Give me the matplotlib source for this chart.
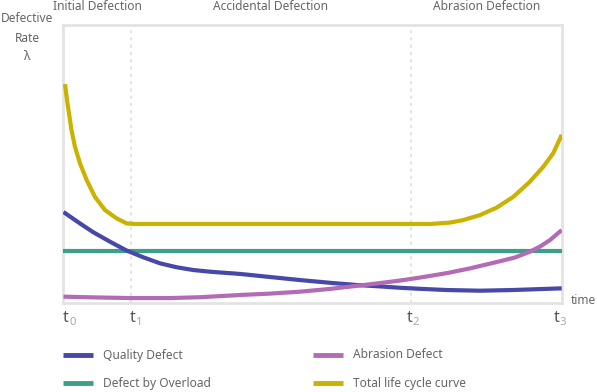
"""
Bathtub curve: defective rate over the product life cycle.
"""
import matplotlib

matplotlib.use("Agg")
import matplotlib.pyplot as plt
from matplotlib.lines import Line2D

plt.rcParams["font.family"] = ["Noto Sans", "DejaVu Sans"]

# ---------------------------------------------------------------------------
# Data (time 0..100 from t0 to t3, rate 0..100 of the axis height)
# ---------------------------------------------------------------------------

tick_pos = [0.0, 13.5, 69.7, 100.0]
tick_sub = ["0", "1", "2", "3"]
phase_names = ["Initial Defection", "Accidental Defection", "Abrasion Defection"]

total_x = [0.3, 0.7, 1.1, 1.6, 2.3, 3.3, 4.66, 6.3, 8.33, 10.68,
           12.69, 14.35, 40.0, 73.6, 77.6, 80.2, 83.6, 86.95, 90.3, 93.6,
           96.3, 98.3, 100.0]
total_y = [78.7, 73.0, 68.2, 62.2, 56.1, 50.2, 44.1, 38.1, 33.3, 30.3,
           28.5, 28.3, 28.3, 28.3, 28.8, 29.7, 31.5, 34.2, 38.1, 43.5,
           48.9, 53.8, 60.4]

quality_x = [0.0, 3.3, 6.0, 9.35, 12.7, 16.0, 19.4, 22.7, 26.05, 29.4,
             35.4, 41.4, 47.4, 53.5, 58.9, 63.5, 67.6, 71.9, 76.9, 83.6,
             90.2, 100.0]
quality_y = [32.6, 28.5, 25.3, 21.9, 18.7, 16.3, 14.1, 12.7, 11.7, 11.1,
             10.3, 9.2, 8.1, 7.1, 6.3, 5.8, 5.3, 4.9, 4.5, 4.25,
             4.5, 5.1]

abrasion_x = [0.0, 7.3, 13.5, 21.4, 27.4, 35.4, 41.4, 47.5, 53.5, 58.9,
              63.5, 67.5, 71.6, 77.0, 81.6, 87.0, 90.6, 93.6, 95.6, 97.65,
              100.0]
abrasion_y = [2.1, 1.8, 1.6, 1.6, 1.9, 2.7, 3.2, 3.9, 4.9, 6.0,
              7.0, 7.9, 9.0, 10.6, 12.3, 14.6, 16.2, 18.3, 20.1, 22.5,
              26.1]

overload_x = [0.0, 100.0]
overload_y = [18.7, 18.7]

series = [
    ("Quality Defect", quality_x, quality_y, "#4848a9"),
    ("Defect by Overload", overload_x, overload_y, "#3ca088"),
    ("Abrasion Defect", abrasion_x, abrasion_y, "#b26bb4"),
    ("Total life cycle curve", total_x, total_y, "#cbb100"),
]

TEXT = "#666666"
W, H = 597, 392

# ---------------------------------------------------------------------------
# Figure
# ---------------------------------------------------------------------------

fig = plt.figure(figsize=(W / 100, H / 100), dpi=100)
ax = fig.add_axes([63.5 / W, 1 - 302.5 / H, (561.7 - 63.5) / W, (302.5 - 25) / H])
ax.set_xlim(0, 100)
ax.set_ylim(0, 100)

for x in tick_pos[1:3]:
    ax.axvline(x, color="#e4e4e4", lw=1.5, ls=(0, (1.5, 2)), zorder=1)

# draw order: overload, quality, abrasion, total
for idx in (1, 0, 2, 3):
    label, xs, ys, color = series[idx]
    ax.plot(xs, ys, color=color, lw=3, solid_capstyle="butt",
            solid_joinstyle="round", zorder=3)

for side in ax.spines.values():
    side.set_color("#e3e3e3")
    side.set_linewidth(2)
ax.set_xticks([])
ax.set_yticks([])

# phase headers, centred between ticks
for i, name in enumerate(phase_names):
    mid = (tick_pos[i] + tick_pos[i + 1]) / 2
    ax.annotate(name, xy=(mid, 1), xycoords=("data", "axes fraction"),
                xytext=(0, 13.5), textcoords="offset points",
                ha="center", va="center", fontsize=8.6, color=TEXT)

# tick labels t_n
t_shift = [-0.5, -1, -4, -8]
for x, sub, dx in zip(tick_pos, tick_sub, t_shift):
    ax.annotate("t", xy=(x, 0), xycoords=("data", "axes fraction"),
                xytext=(dx * 0.72, -11), textcoords="offset points",
                ha="left", va="center", fontsize=11.5, color="#555555")
    ax.annotate(sub, xy=(x, 0), xycoords=("data", "axes fraction"),
                xytext=((dx + 6) * 0.72, -14.5), textcoords="offset points",
                ha="left", va="center", fontsize=8.2, color="#aaaaaa")

fig.text(571 / W, 1 - 301 / H, "time", ha="left", va="center",
         fontsize=8.6, color=TEXT)

# y label
fig.text(27 / W, 1 - 19 / H, "Defective", ha="center", va="center",
         fontsize=8.6, color=TEXT)
fig.text(27 / W, 1 - 38 / H, "Rate", ha="center", va="center",
         fontsize=8.6, color=TEXT)
fig.text(27 / W, 1 - 56 / H, "λ", ha="center", va="center",
         fontsize=9, color=TEXT, fontweight="bold")

# legend, two columns
leg_cols = [63, 313]
leg_rows = [355, 383]
for k, (label, xs, ys, color) in enumerate(series):
    col, row = divmod(k, 2)
    x0 = leg_cols[col]
    y0 = 1 - leg_rows[row] / H
    fig.add_artist(Line2D([x0 / W, (x0 + 30) / W], [y0, y0],
                          color=color, lw=3.5, solid_capstyle="butt"))
    fig.text((x0 + 40) / W, y0, label, ha="left", va="center",
             fontsize=8.6, color=TEXT)

fig.savefig("out.png", dpi=100)
